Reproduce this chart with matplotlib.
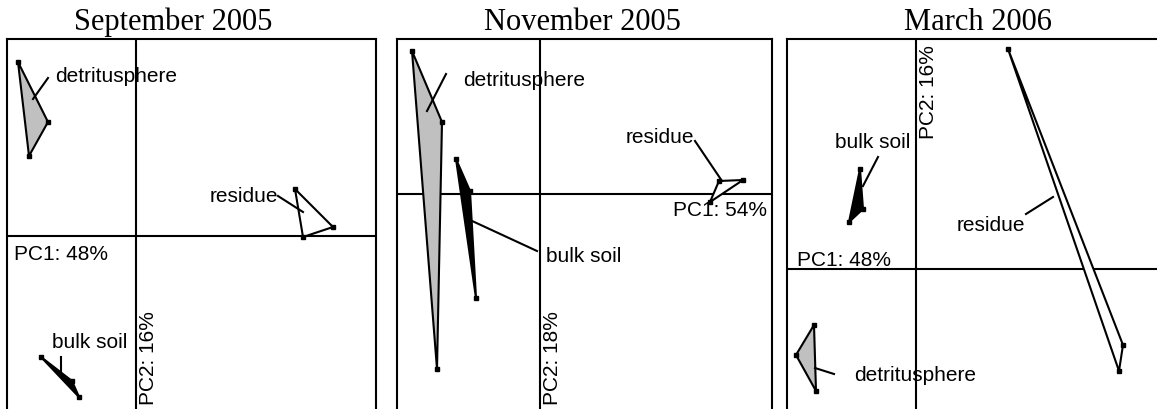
import matplotlib
matplotlib.use("Agg")
import matplotlib.pyplot as plt

plt.rcParams['font.family'] = ['Liberation Sans', 'DejaVu Sans']

# PCA scores (arbitrary units), one triangle (hull of 3 replicates) per group
titles = ["September 2005", "November 2005", "March 2006"]
pc1_labels = ["PC1: 48%", "PC1: 54%", "PC1: 48%"]
pc2_labels = ["PC2: 16%", "PC2: 18%", "PC2: 16%"]

sep_detritus_x = [-1.18, -0.88, -1.07]
sep_detritus_y = [1.74, 1.14, 0.80]
sep_residue_x = [1.59, 1.97, 1.67]
sep_residue_y = [0.47, 0.09, -0.01]
sep_bulk_x = [-0.95, -0.64, -0.57]
sep_bulk_y = [-1.21, -1.45, -1.61]

nov_detritus_x = [-1.28, -0.98, -1.03]
nov_detritus_y = [1.43, 0.72, -1.75]
nov_residue_x = [1.79, 2.03, 1.70]
nov_residue_y = [0.13, 0.14, -0.08]
nov_bulk_x = [-0.84, -0.70, -0.64]
nov_bulk_y = [0.35, 0.03, -1.04]

mar_detritus_x = [-1.02, -1.20, -1.00]
mar_detritus_y = [-0.56, -0.86, -1.22]
mar_residue_x = [0.92, 2.07, 2.03]
mar_residue_y = [2.20, -0.76, -1.02]
mar_bulk_x = [-0.56, -0.53, -0.67]
mar_bulk_y = [1.00, 0.60, 0.47]

fills = {"detritusphere": "#c0c0c0", "residue": "white", "bulk soil": "black"}

W, H = 1157, 410
fig = plt.figure(figsize=(W / 100, H / 100), dpi=100)

# panel boxes in pixels: left, right, top, origin x, origin y
boxes = [(7, 376, 40, 136, 237), (397, 772, 40, 540, 195), (787, 1170, 40, 916, 270)]
title_x = [173, 582, 978]

groups = [
    {"detritusphere": (sep_detritus_x, sep_detritus_y), "residue": (sep_residue_x, sep_residue_y),
     "bulk soil": (sep_bulk_x, sep_bulk_y)},
    {"detritusphere": (nov_detritus_x, nov_detritus_y), "residue": (nov_residue_x, nov_residue_y),
     "bulk soil": (nov_bulk_x, nov_bulk_y)},
    {"detritusphere": (mar_detritus_x, mar_detritus_y), "residue": (mar_residue_x, mar_residue_y),
     "bulk soil": (mar_bulk_x, mar_bulk_y)},
]

# label placement: (text x, y, ha, leader start, leader end)
labels = [
    {"detritusphere": (-0.81, 1.61, "left", (-0.88, 1.58), (-1.03, 1.37)),
     "residue": (1.42, 0.41, "right", (1.42, 0.40), (1.67, 0.24)),
     "bulk soil": (-0.84, -1.05, "left", (-0.75, -1.21), (-0.75, -1.36))},
    {"detritusphere": (-0.77, 1.15, "left", (-0.94, 1.20), (-1.13, 0.83)),
     "residue": (0.86, 0.58, "left", (1.55, 0.53), (1.82, 0.13)),
     "bulk soil": (0.06, -0.62, "left", (-0.03, -0.57), (-0.70, -0.26))},
    {"detritusphere": (-0.62, -1.06, "left", (-0.82, -1.05), (-1.01, -0.99)),
     "residue": (0.41, 0.44, "left", (1.10, 0.55), (1.37, 0.72)),
     "bulk soil": (-0.81, 1.27, "left", (-0.38, 1.12), (-0.53, 0.83))},
]
pc1_pos = [(-1.22, -0.17, "left"), (2.27, -0.15, "right"), (-1.19, 0.09, "left")]
pc2_pos = [(0.12, -1.68, "bottom"), (0.13, -2.10, "bottom"), (0.13, 2.25, "top")]

fs = 15
for i in range(3):
    l, r, t, ox, oy = boxes[i]
    ax = fig.add_axes([l / W, 0, (r - l) / W, (H - t) / H])
    ax.set_xlim((l - ox) / 100, (r - ox) / 100)
    ax.set_ylim((oy - H) / 100, (oy - t) / 100)
    ax.set_xticks([])
    ax.set_yticks([])
    ax.spines['bottom'].set_visible(False)
    for s in ['top', 'left', 'right']:
        ax.spines[s].set_linewidth(1.5)
    ax.axhline(0, color="black", lw=1.5, zorder=1)
    ax.axvline(0, color="black", lw=1.5, zorder=1)

    for name, (xs, ys) in groups[i].items():
        ax.fill(xs, ys, facecolor=fills[name], edgecolor="black", lw=1.5, zorder=3)
        ax.plot(xs, ys, "s", color="black", ms=2.5, zorder=4)
        tx, ty, ha, p0, p1 = labels[i][name]
        ax.text(tx, ty, name, ha=ha, va="center", fontsize=fs, zorder=2)
        ax.plot([p0[0], p1[0]], [p0[1], p1[1]], color="black", lw=1.5, zorder=3)

    x1, y1, ha1 = pc1_pos[i]
    ax.text(x1, y1, pc1_labels[i], ha=ha1, va="center", fontsize=fs)
    x2, y2, va2 = pc2_pos[i]
    ax.text(x2, y2, pc2_labels[i], ha="center", va=va2, rotation=90, fontsize=fs)

    fig.text(title_x[i] / W, 1 - 30 / H, titles[i], ha="center", va="baseline",
             fontsize=22, family="Liberation Serif")

fig.savefig("out.png", dpi=100)
